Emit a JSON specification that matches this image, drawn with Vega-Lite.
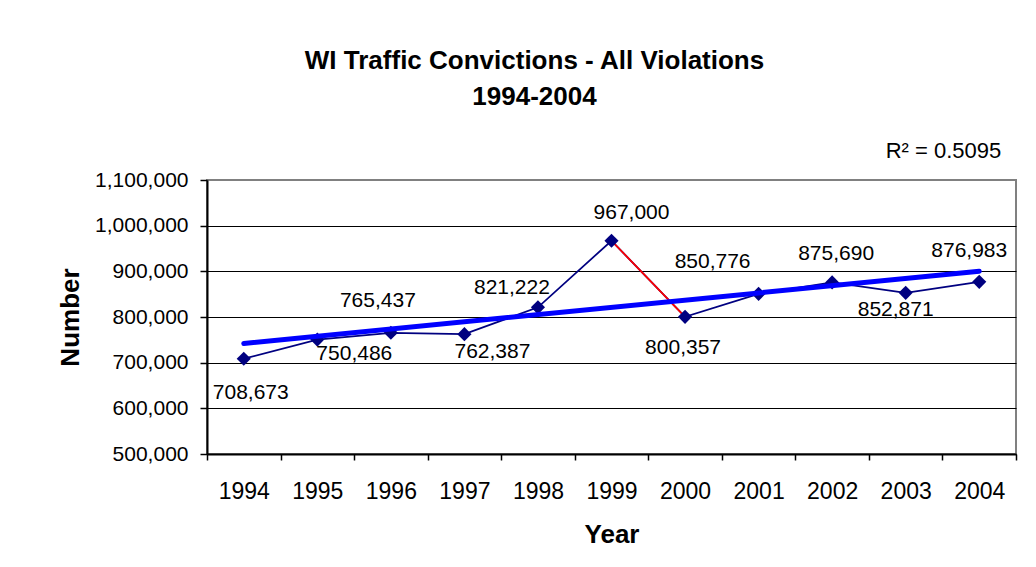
{
  "$schema": "https://vega.github.io/schema/vega-lite/v6.json",
  "width": 809,
  "height": 274,
  "autosize": {"type": "none"},
  "padding": {"left": 207, "top": 180, "right": 20, "bottom": 113},
  "background": "white",
  "config": {
    "font": "Liberation Sans",
    "view": {"stroke": "#808080", "strokeWidth": 2},
    "text": {"fontSize": 21, "color": "black", "baseline": "alphabetic", "align": "center"}
  },
  "title": {
    "text": ["WI Traffic Convictions - All Violations", "1994-2004"],
    "fontSize": 26,
    "fontWeight": "bold",
    "lineHeight": 36,
    "anchor": "middle",
    "dx": -77,
    "offset": 30,
    "color": "black"
  },
  "data": {
    "values": [
      {"year": 1994, "value": 708673},
      {"year": 1995, "value": 750486},
      {"year": 1996, "value": 765437},
      {"year": 1997, "value": 762387},
      {"year": 1998, "value": 821222},
      {"year": 1999, "value": 967000},
      {"year": 2000, "value": 800357},
      {"year": 2001, "value": 850776},
      {"year": 2002, "value": 875690},
      {"year": 2003, "value": 852871},
      {"year": 2004, "value": 876983}
    ]
  },
  "encoding": {
    "x": {
      "field": "year",
      "type": "ordinal",
      "scale": {"type": "band", "paddingInner": 0, "paddingOuter": 0},
      "axis": {
        "title": "Year",
        "labelAngle": 0,
        "tickBand": "extent",
        "grid": false,
        "domainColor": "black",
        "domainWidth": 2,
        "tickColor": "black",
        "tickSize": 6,
        "tickWidth": 1.5,
        "labelFontSize": 23,
        "labelColor": "black",
        "labelPadding": 20,
        "titleFontSize": 26,
        "titleFontWeight": "bold",
        "titleColor": "black",
        "titlePadding": 18
      }
    },
    "y": {
      "field": "value",
      "type": "quantitative",
      "scale": {"domain": [500000, 1100000], "nice": false},
      "axis": {
        "title": "Number",
        "values": [500000, 600000, 700000, 800000, 900000, 1000000, 1100000],
        "labelExpr": "format(datum.value, ',')",
        "grid": true,
        "gridColor": {"condition": {"test": "datum.value === 1100000", "value": "#808080"}, "value": "black"},
        "gridWidth": 1,
        "gridOpacity": 1,
        "domainColor": "black",
        "domainWidth": 2,
        "tickColor": "black",
        "tickSize": 7,
        "tickWidth": 1.5,
        "labelFontSize": 21,
        "labelColor": "black",
        "labelPadding": 12,
        "titleFontSize": 26,
        "titleFontWeight": "bold",
        "titleColor": "black",
        "titlePadding": 11
      }
    }
  },
  "layer": [
    {"mark": {"type": "line", "color": "#000080", "strokeWidth": 1.75}},
    {
      "transform": [{"filter": {"field": "year", "oneOf": [1999, 2000]}}],
      "mark": {"type": "line", "color": "#FF0000", "strokeWidth": 1.75}
    },
    {"mark": {"type": "point", "shape": "diamond", "filled": true, "color": "#000080", "size": 200, "opacity": 1}},
    {
      "transform": [{"regression": "value", "on": "year", "method": "linear"}],
      "mark": {"type": "line", "color": "#0000FF", "strokeWidth": 5, "strokeCap": "round"}
    },
    {"transform": [{"filter": {"field": "year", "equal": 1994}}], "mark": {"type": "text", "dx": 7, "dy": 40}, "encoding": {"text": {"field": "value", "type": "quantitative", "format": ","}}},
    {"transform": [{"filter": {"field": "year", "equal": 1995}}], "mark": {"type": "text", "dx": 37, "dy": 20}, "encoding": {"text": {"field": "value", "type": "quantitative", "format": ","}}},
    {"transform": [{"filter": {"field": "year", "equal": 1996}}], "mark": {"type": "text", "dx": -13, "dy": -26}, "encoding": {"text": {"field": "value", "type": "quantitative", "format": ","}}},
    {"transform": [{"filter": {"field": "year", "equal": 1997}}], "mark": {"type": "text", "dx": 28, "dy": 24}, "encoding": {"text": {"field": "value", "type": "quantitative", "format": ","}}},
    {"transform": [{"filter": {"field": "year", "equal": 1998}}], "mark": {"type": "text", "dx": -26, "dy": -13}, "encoding": {"text": {"field": "value", "type": "quantitative", "format": ","}}},
    {"transform": [{"filter": {"field": "year", "equal": 1999}}], "mark": {"type": "text", "dx": 20, "dy": -22}, "encoding": {"text": {"field": "value", "type": "quantitative", "format": ","}}},
    {"transform": [{"filter": {"field": "year", "equal": 2000}}], "mark": {"type": "text", "dx": -2, "dy": 37}, "encoding": {"text": {"field": "value", "type": "quantitative", "format": ","}}},
    {"transform": [{"filter": {"field": "year", "equal": 2001}}], "mark": {"type": "text", "dx": -46, "dy": -26}, "encoding": {"text": {"field": "value", "type": "quantitative", "format": ","}}},
    {"transform": [{"filter": {"field": "year", "equal": 2002}}], "mark": {"type": "text", "dx": 4, "dy": -22}, "encoding": {"text": {"field": "value", "type": "quantitative", "format": ","}}},
    {"transform": [{"filter": {"field": "year", "equal": 2003}}], "mark": {"type": "text", "dx": -10, "dy": 23}, "encoding": {"text": {"field": "value", "type": "quantitative", "format": ","}}},
    {"transform": [{"filter": {"field": "year", "equal": 2004}}], "mark": {"type": "text", "dx": -10, "dy": -25}, "encoding": {"text": {"field": "value", "type": "quantitative", "format": ","}}},
    {
      "transform": [{"filter": {"field": "year", "equal": 2004}}],
      "mark": {"type": "text", "align": "right", "dx": 22, "dy": -22, "fontSize": 22},
      "encoding": {
        "y": {"datum": 1100000, "type": "quantitative"},
        "text": {"value": "R² = 0.5095"}
      }
    }
  ]
}
